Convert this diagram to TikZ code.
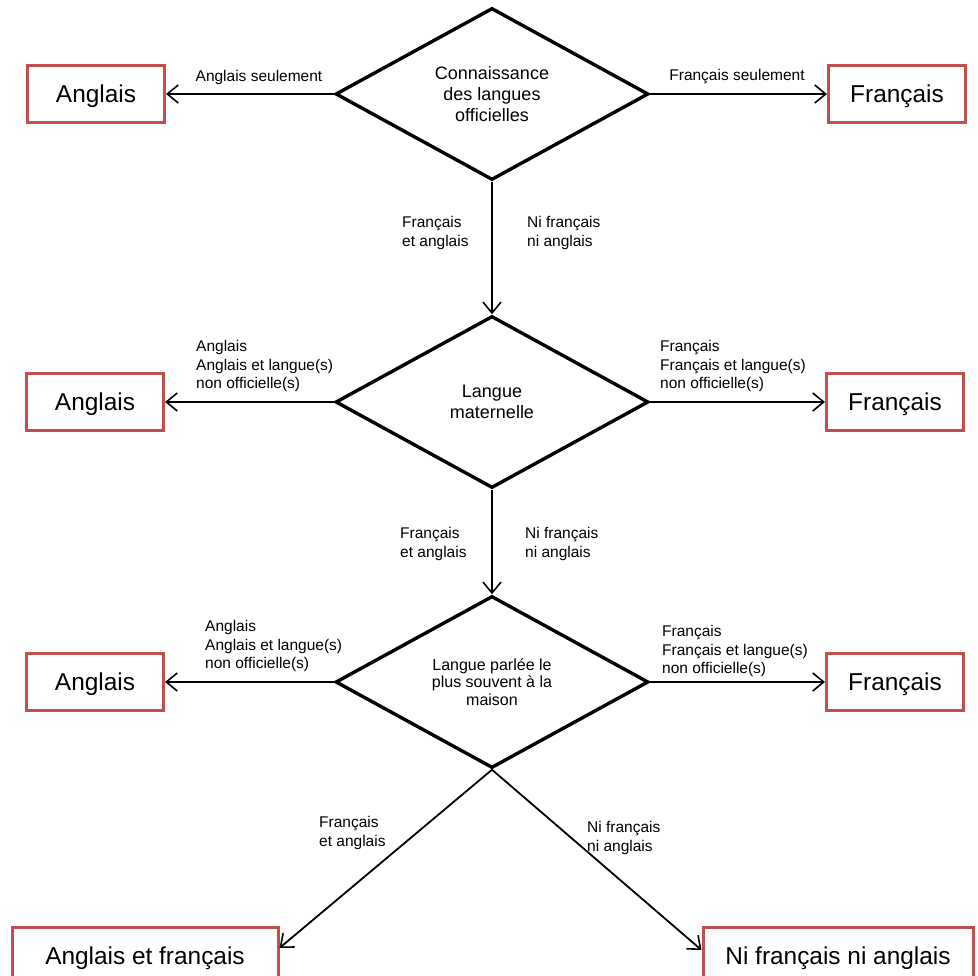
\documentclass[tikz,border=0pt]{standalone}
\usepackage{fontspec}
\setmainfont{Liberation Sans}
\usetikzlibrary{shapes.geometric,arrows.meta}
\definecolor{boxred}{RGB}{192,80,77}
\tikzset{
  decision/.style={diamond, draw=black, line width=3.4pt, minimum width=313pt, minimum height=172pt, aspect=1.82, inner sep=0pt, align=center},
  dtext/.style={font=\fontsize{18}{21}\selectfont},
  dtextsmall/.style={font=\fontsize{16}{17.5}\selectfont},
  outbox/.style={draw=boxred, line width=3pt, minimum width=137pt, minimum height=57pt, inner sep=0pt, text height=17.5pt, text depth=0pt, font=\fontsize{24.4}{28}\selectfont},
  lbl/.style={inner sep=0pt, align=left, font=\fontsize{15.5}{18.5}\selectfont},
  flow/.style={line width=1.8pt, -{Straight Barb[length=11pt,width=18pt,line width=1.6pt]}},
}
\begin{document}
\begin{tikzpicture}[x=1pt,y=-1pt]
\useasboundingbox (0,0) rectangle (978,976);
% decisions
\node[decision, dtext] (d1) at (492,94) {Connaissance\\des langues\\officielles};
\node[decision, dtext] (d2) at (492,402) {Langue\\maternelle};
\node[decision, dtextsmall] (d3) at (492,682) {Langue parlée le\\plus souvent à la\\maison};
% outcome boxes
\node[outbox] (a1) at (96,94) {Anglais};
\node[outbox] (f1) at (897,94) {Français};
\node[outbox] (a2) at (95,402) {Anglais};
\node[outbox] (f2) at (895,402) {Français};
\node[outbox] (a3) at (95,682) {Anglais};
\node[outbox] (f3) at (895,682) {Français};
\node[outbox, minimum width=266pt, minimum height=58pt] (bl) at (145,956) {Anglais et français};
\node[outbox, minimum width=270pt, minimum height=58pt] (br) at (838,956) {Ni français ni anglais};
% connectors
\draw[flow] (d1.west) -- (a1.east);
\draw[flow] (d1.east) -- (f1.west);
\draw[flow] (d1.south) -- (d2.north);
\draw[flow] (d2.west) -- (a2.east);
\draw[flow] (d2.east) -- (f2.west);
\draw[flow] (d2.south) -- (d3.north);
\draw[flow] (d3.west) -- (a3.east);
\draw[flow] (d3.east) -- (f3.west);
\draw[flow] (d3.south) -- ([yshift=8pt]bl.east);
\draw[flow] (d3.south) -- ([yshift=6pt]br.west);
% labels
\node[lbl] (l1a) at (259,77) {Anglais seulement};
\node[lbl] (l1f) at (737,77) {Français seulement};
\node[lbl, anchor=west] (l1b) at (402,233) {Français\\et anglais};
\node[lbl, anchor=west] (l1n) at (527,233) {Ni français\\ni anglais};
\node[lbl, anchor=west] (l2a) at (196,366) {Anglais\\Anglais et langue(s)\\non officielle(s)};
\node[lbl, anchor=west] (l2f) at (660,366) {Français\\Français et langue(s)\\non officielle(s)};
\node[lbl, anchor=west] (l2b) at (400,544) {Français\\et anglais};
\node[lbl, anchor=west] (l2n) at (525,544) {Ni français\\ni anglais};
\node[lbl, anchor=west] (l3a) at (205,646) {Anglais\\Anglais et langue(s)\\non officielle(s)};
\node[lbl, anchor=west] (l3f) at (662,651) {Français\\Français et langue(s)\\non officielle(s)};
\node[lbl, anchor=west] (l3b) at (319,833) {Français\\et anglais};
\node[lbl, anchor=west] (l3n) at (587,838) {Ni français\\ni anglais};
\end{tikzpicture}
\end{document}
